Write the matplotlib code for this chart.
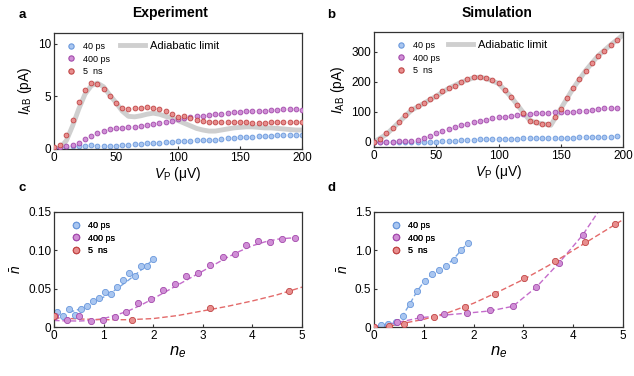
import matplotlib
matplotlib.use("Agg")
import matplotlib.pyplot as plt
from matplotlib.lines import Line2D

plt.rcParams["font.family"] = ["Liberation Sans", "DejaVu Sans"]
plt.rcParams["mathtext.fontset"] = "custom"
plt.rcParams["mathtext.rm"] = "Liberation Sans"
plt.rcParams["mathtext.it"] = "Liberation Sans:italic"

# ---- panel a: experiment ----
vp_a = list(range(0, 205, 5))
a_40ps = [0.10, 0.15, 0.20, 0.25, 0.25, 0.30, 0.35, 0.30, 0.25, 0.28, 0.30, 0.35, 0.40, 0.45,
          0.50, 0.55, 0.55, 0.60, 0.65, 0.70, 0.75, 0.75, 0.80, 0.85, 0.85, 0.90, 0.90, 0.95,
          1.00, 1.05, 1.10, 1.15, 1.15, 1.20, 1.20, 1.25, 1.30, 1.30, 1.30, 1.35, 1.35]
a_400ps = [0.10, 0.20, 0.25, 0.35, 0.60, 0.95, 1.20, 1.50, 1.70, 1.85, 1.95, 2.00, 2.05, 2.10,
           2.20, 2.30, 2.40, 2.50, 2.60, 2.70, 2.80, 2.95, 3.00, 3.10, 3.15, 3.25, 3.30, 3.35,
           3.40, 3.50, 3.55, 3.60, 3.65, 3.65, 3.65, 3.70, 3.70, 3.75, 3.80, 3.80, 3.70]
a_5ns = [0.20, 0.40, 1.30, 2.75, 4.45, 5.60, 6.30, 6.15, 5.70, 5.00, 4.35, 3.90, 3.80, 3.90,
         3.90, 4.00, 3.90, 3.80, 3.60, 3.35, 3.00, 3.10, 2.90, 2.75, 2.70, 2.60, 2.60, 2.60,
         2.55, 2.60, 2.60, 2.55, 2.50, 2.45, 2.50, 2.55, 2.60, 2.60, 2.60, 2.60, 2.55]
adiab_a_x = [0, 5, 10, 15, 20, 25, 30, 35, 40, 45, 50, 55, 60, 65, 70, 75, 80, 85, 90, 95, 100,
             105, 110, 115, 120, 125, 130, 135, 140, 145, 150, 155, 160, 165, 170, 175, 180,
             185, 190, 195, 200]
adiab_a_y = [0.0, 0.1, 0.8, 2.2, 3.8, 5.2, 6.0, 6.25, 5.9, 5.1, 4.4, 3.6, 3.1, 3.05, 3.15, 3.3,
             3.4, 3.3, 3.1, 2.95, 2.7, 2.45, 2.2, 1.95, 1.8, 1.7, 1.7, 1.8, 1.9, 2.0, 2.05, 2.1,
             2.1, 2.05, 2.0, 2.0, 1.95, 1.9, 1.85, 1.8, 1.8]

# ---- panel b: simulation ----
vp_b = list(range(0, 200, 5))
b_40ps = [0, 0, 0, 0, 0, 0, 0, -1, -1, 0, 1, 2, 3, 4, 5, 6, 7, 8, 9, 9, 10, 10, 11, 11, 12,
          12, 13, 13, 13, 13, 14, 14, 14, 15, 15, 16, 16, 17, 17, 18]
b_400ps = [0, 0, 1, 1, 2, 3, 4, 7, 12, 19, 28, 36, 43, 50, 56, 61, 66, 70, 74, 78, 81, 84,
           87, 89, 92, 93, 95, 96, 97, 98, 99, 100, 100, 102, 104, 107, 109, 111, 112, 114]
b_5ns = [0, 11, 28, 47, 67, 89, 108, 119, 128, 141, 153, 169, 178, 187, 199, 209, 214, 214,
         211, 205, 194, 174, 150, 124, 97, 70, 66, 61, 58, 82, 109, 147, 178, 208, 237, 263,
         286, 303, 322, 337]
adiab_b_x = [0, 10, 20, 30, 40, 50, 60, 70, 80, 85, 90, 100, 110, 120, 125, 130, 142, 150,
             160, 170, 180, 190, 200]
adiab_b_y = [0, 25, 65, 105, 128, 152, 178, 198, 213, 215, 211, 194, 150, 97, 72, 64, 55,
             110, 178, 237, 286, 322, 355]

# ---- panel c: experiment, n_bar vs n_e ----
c_40ps_x = [0.07, 0.19, 0.31, 0.43, 0.55, 0.67, 0.79, 0.91, 1.03, 1.15, 1.27, 1.39, 1.51,
            1.63, 1.75, 1.87, 2.00]
c_40ps_y = [0.019, 0.015, 0.024, 0.0155, 0.023, 0.028, 0.034, 0.038, 0.0455, 0.043, 0.052,
            0.061, 0.071, 0.066, 0.080, 0.079, 0.0885]
c_40ps_fit_x = [0.3, 0.5, 0.75, 1.0, 1.25, 1.5, 1.75, 2.0]
c_40ps_fit_y = [0.019, 0.023, 0.030, 0.039, 0.049, 0.061, 0.074, 0.088]
c_400ps_x = [0.02, 0.26, 0.50, 0.74, 0.98, 1.22, 1.46, 1.70, 1.95, 2.19, 2.43, 2.67, 2.91,
             3.15, 3.40, 3.64, 3.88, 4.12, 4.36, 4.60, 4.85]
c_400ps_y = [0.015, 0.009, 0.015, 0.0074, 0.009, 0.0134, 0.020, 0.0317, 0.036, 0.048, 0.056,
             0.066, 0.0707, 0.0806, 0.0915, 0.0954, 0.1066, 0.1127, 0.1105, 0.1153, 0.1162]
c_400ps_fit_x = [0, 0.25, 0.5, 0.75, 1.0, 1.25, 1.5, 1.75, 2.0, 2.25, 2.5, 2.75, 3.0, 3.25,
                 3.5, 3.75, 4.0, 4.25, 4.5, 4.75, 4.85]
c_400ps_fit_y = [0.0085, 0.008, 0.0078, 0.0085, 0.011, 0.0155, 0.021, 0.0285, 0.037, 0.046,
                 0.055, 0.064, 0.073, 0.082, 0.091, 0.099, 0.106, 0.111, 0.1145, 0.116, 0.116]
c_5ns_x = [0.0, 1.58, 3.15, 4.73]
c_5ns_y = [0.015, 0.009, 0.0243, 0.0468]
c_5ns_fit_x = [0, 0.5, 1.0, 1.5, 2.0, 2.5, 3.0, 3.5, 4.0, 4.5, 5.0]
c_5ns_fit_y = [0.012, 0.0105, 0.0095, 0.0095, 0.011, 0.015, 0.021, 0.027, 0.034, 0.042, 0.052]

# ---- panel d: simulation, n_bar vs n_e ----
d_40ps_x = [0.15, 0.29, 0.44, 0.58, 0.73, 0.87, 1.02, 1.16, 1.31, 1.45, 1.60, 1.74, 1.89]
d_40ps_y = [0.02, 0.035, 0.06, 0.14, 0.30, 0.47, 0.60, 0.69, 0.74, 0.80, 0.88, 1.00, 1.10]
d_40ps_fit_x = [0.1, 0.3, 0.45, 0.55, 0.7, 0.85, 1.0, 1.15, 1.3, 1.45, 1.6, 1.75, 1.89]
d_40ps_fit_y = [0.0, 0.03, 0.06, 0.12, 0.28, 0.45, 0.59, 0.68, 0.74, 0.80, 0.89, 1.0, 1.1]
d_400ps_x = [0.0, 0.47, 0.93, 1.40, 1.86, 2.33, 2.79, 3.26, 3.72, 4.19]
d_400ps_y = [0.0, 0.065, 0.13, 0.175, 0.18, 0.22, 0.28, 0.52, 0.83, 1.20]
d_400ps_fit_x = [0.0, 0.47, 0.93, 1.4, 1.86, 2.33, 2.79, 3.26, 3.72, 4.19, 4.5, 4.6]
d_400ps_fit_y = [0.0, 0.06, 0.12, 0.155, 0.18, 0.21, 0.27, 0.52, 0.84, 1.2, 1.5, 1.62]
d_5ns_x = [0.0, 0.3, 0.6, 1.21, 1.82, 2.42, 3.02, 3.63, 4.23, 4.84]
d_5ns_y = [0.0, 0.017, 0.043, 0.13, 0.264, 0.433, 0.637, 0.867, 1.105, 1.344]
d_5ns_fit_x = [0, 0.3, 0.6, 1.0, 1.5, 2.0, 2.5, 3.0, 3.5, 4.0, 4.5, 5.0]
d_5ns_fit_y = [0, 0.01, 0.05, 0.1, 0.19, 0.31, 0.46, 0.62, 0.80, 1.0, 1.2, 1.4]

labels = ["40 ps", "400 ps", "5  ns"]
face = ["#a9c6f0", "#d08fd6", "#e88e8e"]
edge = ["#6a98dc", "#a34aab", "#c04545"]
dash = ["#7aa6e2", "#c46ccb", "#e36a6a"]
gray = "#cfcfcf"

fig = plt.figure(figsize=(6.34, 3.76), dpi=100)
W, H = 634, 376


def rect(l, t, r, b):
    return [l / W, 1 - b / H, (r - l) / W, (b - t) / H]


ax_a = fig.add_axes(rect(54, 33, 302, 149))
ax_b = fig.add_axes(rect(374, 32, 623, 147))
ax_c = fig.add_axes(rect(54, 212, 302, 327))
ax_d = fig.add_axes(rect(374, 212, 623, 327))

for ax in (ax_a, ax_b, ax_c, ax_d):
    for s in ax.spines.values():
        s.set_color("#333333")
        s.set_linewidth(0.9)
    ax.tick_params(direction="in", length=2.5, width=0.8, labelsize=8.5, pad=2,
                   color="#333333")


def series_legend(ax, size, fs, anchor):
    hs = [Line2D([], [], ls="", marker="o", ms=size, mfc=face[i], mec=edge[i], mew=0.8)
          for i in range(3)]
    leg = ax.legend(hs, labels, loc="upper left", bbox_to_anchor=anchor, frameon=False,
                    fontsize=fs, handlelength=0.8, handletextpad=0.9, labelspacing=0.35,
                    borderaxespad=0)
    ax.add_artist(leg)


def adiab_legend(ax, anchor):
    h = Line2D([], [], color=gray, lw=3.5)
    ax.legend([h], ["Adiabatic limit"], loc="upper left", bbox_to_anchor=anchor,
              frameon=False, fontsize=8, handlelength=2.2, handletextpad=0.5,
              borderaxespad=0)


# panel a
ax_a.plot(adiab_a_x, adiab_a_y, color=gray, lw=3.5, zorder=1)
for i, ys in enumerate([a_40ps, a_400ps, a_5ns]):
    ax_a.scatter(vp_a, ys, s=12, c=face[i], edgecolors=edge[i], linewidths=0.6,
                 zorder=2 + i)
ax_a.set_xlim(0, 200)
ax_a.set_ylim(0, 11)
ax_a.set_xticks([0, 50, 100, 150, 200])
ax_a.set_yticks([0, 5, 10])
series_legend(ax_a, 3.8, 6.5, (0.04, 0.95))
adiab_legend(ax_a, (0.25, 0.97))
ax_a.set_xlabel(r"$V_\mathrm{P}$ ($\mathrm{\mu}$V)", fontsize=10, labelpad=1)
ax_a.set_ylabel(r"$I_\mathrm{AB}$ (pA)", fontsize=10, labelpad=3)

# panel b
ax_b.plot(adiab_b_x, adiab_b_y, color=gray, lw=3.5, zorder=1)
for i, ys in enumerate([b_40ps, b_400ps, b_5ns]):
    ax_b.scatter(vp_b, ys, s=12, c=face[i], edgecolors=edge[i], linewidths=0.6,
                 zorder=2 + i)
ax_b.set_xlim(0, 200)
ax_b.set_ylim(-17, 365)
ax_b.set_xticks([0, 50, 100, 150, 200])
ax_b.set_yticks([0, 100, 200, 300])
series_legend(ax_b, 3.8, 6.5, (0.08, 0.95))
adiab_legend(ax_b, (0.28, 0.97))
ax_b.set_xlabel(r"$V_\mathrm{P}$ ($\mathrm{\mu}$V)", fontsize=10, labelpad=1)
ax_b.set_ylabel(r"$I_\mathrm{AB}$ (pA)", fontsize=10, labelpad=3)

# panel c
for i, (x, y, fx, fy) in enumerate([(c_40ps_x, c_40ps_y, c_40ps_fit_x, c_40ps_fit_y),
                                     (c_400ps_x, c_400ps_y, c_400ps_fit_x, c_400ps_fit_y),
                                     (c_5ns_x, c_5ns_y, c_5ns_fit_x, c_5ns_fit_y)]):
    ax_c.plot(fx, fy, color=dash[i], lw=1.0, ls=(0, (4, 2)), zorder=1)
    ax_c.scatter(x, y, s=20, c=face[i], edgecolors=edge[i], linewidths=0.6, zorder=2 + i)
ax_c.set_xlim(0, 5)
ax_c.set_ylim(0, 0.15)
ax_c.set_xticks([0, 1, 2, 3, 4, 5])
ax_c.set_yticks([0, 0.05, 0.10, 0.15])
ax_c.set_yticklabels(["0", "0.05", "0.10", "0.15"])
series_legend(ax_c, 4.6, 6.5, (0.06, 0.95))
ax_c.set_xlabel(r"$n_e$", fontsize=12, labelpad=2)
ax_c.set_ylabel(r"$\bar{n}$", fontsize=10, labelpad=3)

# panel d
for i, (x, y, fx, fy) in enumerate([(d_40ps_x, d_40ps_y, d_40ps_fit_x, d_40ps_fit_y),
                                     (d_400ps_x, d_400ps_y, d_400ps_fit_x, d_400ps_fit_y),
                                     (d_5ns_x, d_5ns_y, d_5ns_fit_x, d_5ns_fit_y)]):
    ax_d.plot(fx, fy, color=dash[i], lw=1.0, ls=(0, (4, 2)), zorder=1)
    ax_d.scatter(x, y, s=20, c=face[i], edgecolors=edge[i], linewidths=0.6, zorder=2 + i)
ax_d.set_xlim(0, 5)
ax_d.set_ylim(0, 1.5)
ax_d.set_xticks([0, 1, 2, 3, 4, 5])
ax_d.set_yticks([0, 0.5, 1.0, 1.5])
ax_d.set_yticklabels(["0", "0.5", "1.0", "1.5"])
series_legend(ax_d, 4.6, 6.5, (0.06, 0.95))
ax_d.set_xlabel(r"$n_e$", fontsize=12, labelpad=2)
ax_d.set_ylabel(r"$\bar{n}$", fontsize=10, labelpad=3)

# titles and panel letters
fig.text(170 / W, 1 - 13 / H, "Experiment", ha="center", va="center", fontsize=10,
         fontweight="bold")
fig.text(497 / W, 1 - 13 / H, "Simulation", ha="center", va="center", fontsize=10,
         fontweight="bold")
for lab, x, y in [("a", 22, 15), ("b", 331, 15), ("c", 22, 188), ("d", 331, 188)]:
    fig.text(x / W, 1 - y / H, lab, ha="center", va="center", fontsize=9.5,
             fontweight="bold")

fig.savefig("out.png", dpi=100)
